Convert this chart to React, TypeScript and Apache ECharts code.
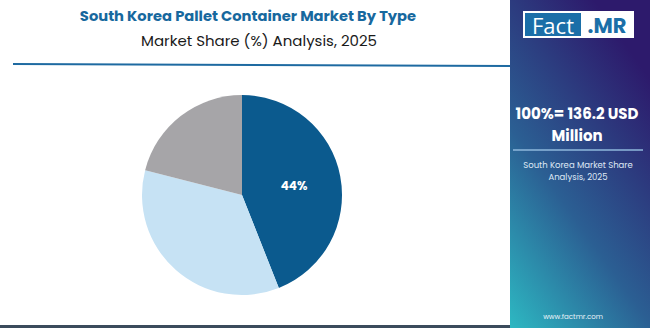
import React, { useEffect, useRef } from "react";
import * as echarts from "echarts";

const categories = ["Type A", "Type B", "Type C"];
const shares = [44, 35, 21];
const labels = ["44%", "", ""];
const sliceColors = ["#0b5a8e", "#c6e2f4", "#a6a5a8"];

const title = "South Korea Pallet Container Market By Type";
const subtitle = "Market Share (%) Analysis, 2025";
const totalLine1 = "100%= 136.2 USD";
const totalLine2 = "Million";
const panelNote1 = "South Korea Market Share";
const panelNote2 = "Analysis, 2025";
const site = "www.factmr.com";

export default function App() {
  const ref = useRef<HTMLDivElement>(null);
  useEffect(() => {
    document.body.style.margin = "0";
    const chart = echarts.init(ref.current!, null, { renderer: "svg" });
    const font = "Poppins, 'Open Sans', 'Noto Sans', sans-serif";
    chart.setOption({
      animation: false,
      backgroundColor: "#ffffff",
      graphic: [
        {
          type: "rect",
          shape: { x: 510, y: 0, width: 140, height: 328 },
          style: {
            fill: new echarts.graphic.LinearGradient(0, 1, 0.6, 0, [
              { offset: 0, color: "#2db8c2" },
              { offset: 0.45, color: "#2b5f93" },
              { offset: 1, color: "#2d1a6c" },
            ]),
          },
          z: 0,
        },
        {
          type: "rect",
          shape: { x: 0, y: 325, width: 510, height: 3 },
          style: { fill: "#3b4b5c" },
        },
        {
          type: "line",
          shape: { x1: 13, y1: 64, x2: 510, y2: 66 },
          style: { stroke: "#1e6aa1", lineWidth: 2 },
        },
        {
          type: "text",
          x: 248,
          y: 16,
          style: {
            text: title,
            fill: "#17689e",
            font: `bold 14.7px ${font}`,
            align: "center",
            verticalAlign: "middle",
          },
        },
        {
          type: "text",
          x: 259,
          y: 40,
          style: {
            text: subtitle,
            fill: "#1a1a1a",
            font: `15px ${font}`,
            align: "center",
            verticalAlign: "middle",
          },
        },
        // logo
        {
          type: "rect",
          shape: { x: 523, y: 11, width: 111, height: 27 },
          style: { fill: "#ffffff" },
        },
        {
          type: "rect",
          shape: { x: 525, y: 13, width: 56, height: 23 },
          style: { fill: "#1b6fa8" },
        },
        {
          type: "text",
          x: 553,
          y: 25,
          style: {
            text: "Fact",
            fill: "#ffffff",
            font: `22px 'Open Sans', sans-serif`,
            align: "center",
            verticalAlign: "middle",
          },
        },
        {
          type: "text",
          x: 607,
          y: 25,
          style: {
            text: ".MR",
            fill: "#1b6fa8",
            font: `bold 21px ${font}`,
            align: "center",
            verticalAlign: "middle",
          },
        },
        {
          type: "text",
          x: 577,
          y: 113,
          style: {
            text: totalLine1,
            fill: "#ffffff",
            font: `bold 15px ${font}`,
            align: "center",
            verticalAlign: "middle",
          },
        },
        {
          type: "text",
          x: 577,
          y: 135,
          style: {
            text: totalLine2,
            fill: "#ffffff",
            font: `bold 15px ${font}`,
            align: "center",
            verticalAlign: "middle",
          },
        },
        {
          type: "line",
          shape: { x1: 513, y1: 150, x2: 643, y2: 150 },
          style: { stroke: "#8fb8dc", lineWidth: 1.5 },
        },
        {
          type: "text",
          x: 578,
          y: 165,
          style: {
            text: panelNote1,
            fill: "#dfe8f5",
            font: `8.5px ${font}`,
            align: "center",
            verticalAlign: "middle",
          },
        },
        {
          type: "text",
          x: 578,
          y: 177,
          style: {
            text: panelNote2,
            fill: "#dfe8f5",
            font: `8.5px ${font}`,
            align: "center",
            verticalAlign: "middle",
          },
        },
        {
          type: "text",
          x: 573,
          y: 316,
          style: {
            text: site,
            fill: "#e8f2f8",
            font: `7px ${font}`,
            align: "center",
            verticalAlign: "middle",
          },
        },
      ],
      series: [
        {
          type: "pie",
          center: [242, 195],
          radius: [0, 100],
          startAngle: 90,
          clockwise: true,
          silent: true,
          data: categories.map((c, i) => ({
            name: c,
            value: shares[i],
            itemStyle: { color: sliceColors[i] },
            label: { formatter: labels[i] },
          })),
          label: {
            show: true,
            position: "inside",
            color: "#ffffff",
            fontWeight: "bold",
            fontSize: 12,
            fontFamily: font,
          },
          labelLine: { show: false },
          itemStyle: { borderWidth: 0 },
        },
      ],
    });
    return () => chart.dispose();
  }, []);
  return <div ref={ref} style={{ width: 650, height: 328 }} />;
}
